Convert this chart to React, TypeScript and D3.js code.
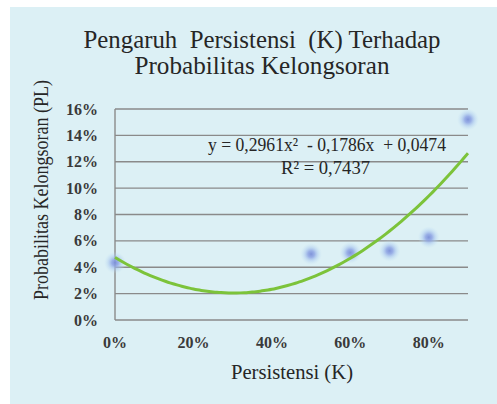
import React from "react";
import * as d3 from "d3";

// observed points (Persistensi K vs Probabilitas Kelongsoran PL)
const persistensi = [0, 0.5, 0.6, 0.7, 0.8, 0.9];
const probabilitas = [0.0435, 0.05, 0.051, 0.0525, 0.0627, 0.152];
// polynomial trendline coefficients: a x^2 + b x + c (as printed on chart)
const trendCoef = [0.2961, -0.1786, 0.0474];
const xTicks = [0, 0.2, 0.4, 0.6, 0.8];
const yTicks = [0, 0.02, 0.04, 0.06, 0.08, 0.1, 0.12, 0.14, 0.16];

const W = 497;
const H = 404;
const serif = "Liberation Serif";

const App = () => {
  const svgRef = React.useRef<SVGSVGElement>(null);

  React.useEffect(() => {
    const svg = d3.select(svgRef.current);
    svg.selectAll("*").remove();

    const x = d3.scaleLinear().domain([0, 0.9]).range([115, 468]);
    const y = d3.scaleLinear().domain([0, 0.16]).range([320, 109]);

    const defs = svg.append("defs");
    const glow = defs.append("radialGradient").attr("id", "glow");
    glow.append("stop").attr("offset", "0%").attr("stop-color", "#7b8fd8").attr("stop-opacity", 0.95);
    glow.append("stop").attr("offset", "30%").attr("stop-color", "#8ea4e4").attr("stop-opacity", 0.85);
    glow.append("stop").attr("offset", "60%").attr("stop-color", "#a9c6ee").attr("stop-opacity", 0.5);
    glow.append("stop").attr("offset", "100%").attr("stop-color", "#c4e2f4").attr("stop-opacity", 0);

    // background
    svg.append("rect").attr("x", 0).attr("y", 0).attr("width", W).attr("height", H).attr("fill", "#ffffff");
    svg.append("rect").attr("x", 10).attr("y", 7).attr("width", W - 10).attr("height", H - 7).attr("fill", "#dcf0f5");

    const root = svg.append("g").style("font-family", serif);

    // title
    root.append("text")
      .attr("x", 262).attr("y", 48)
      .attr("text-anchor", "middle")
      .attr("font-size", 25)
      .attr("fill", "#262626")
      .attr("textLength", 357)
      .attr("lengthAdjust", "spacingAndGlyphs")
      .attr("xml:space", "preserve")
      .text("Pengaruh  Persistensi  (K) Terhadap");
    root.append("text")
      .attr("x", 262).attr("y", 74)
      .attr("text-anchor", "middle")
      .attr("font-size", 25)
      .attr("fill", "#262626")
      .attr("textLength", 255)
      .attr("lengthAdjust", "spacingAndGlyphs")
      .text("Probabilitas Kelongsoran");

    // gridlines
    root.append("g").selectAll("line")
      .data(yTicks)
      .enter().append("line")
      .attr("x1", x(0)).attr("x2", x(0.9))
      .attr("y1", d => y(d)).attr("y2", d => y(d))
      .attr("stroke", "#8a8a8a")
      .attr("stroke-width", 1.4);
    // y axis line
    root.append("line")
      .attr("x1", x(0)).attr("x2", x(0))
      .attr("y1", y(0.16)).attr("y2", y(0))
      .attr("stroke", "#8a8a8a")
      .attr("stroke-width", 1.4);

    // y tick labels
    root.append("g").selectAll("text")
      .data(yTicks)
      .enter().append("text")
      .attr("x", 98)
      .attr("y", d => y(d) + 5.5)
      .attr("text-anchor", "end")
      .attr("font-size", 16)
      .attr("font-weight", "bold")
      .attr("fill", "#3a3a3a")
      .text(d => d3.format(".0%")(d));

    // x tick labels
    root.append("g").selectAll("text")
      .data(xTicks)
      .enter().append("text")
      .attr("x", d => x(d))
      .attr("y", 348)
      .attr("text-anchor", "middle")
      .attr("font-size", 16)
      .attr("font-weight", "bold")
      .attr("fill", "#3a3a3a")
      .text(d => d3.format(".0%")(d));

    // axis titles
    root.append("text")
      .attr("x", 292).attr("y", 379)
      .attr("text-anchor", "middle")
      .attr("font-size", 20)
      .attr("fill", "#262626")
      .attr("textLength", 122)
      .attr("lengthAdjust", "spacingAndGlyphs")
      .text("Persistensi (K)");
    root.append("text")
      .attr("transform", `translate(48, 190) rotate(-90)`)
      .attr("text-anchor", "middle")
      .attr("font-size", 20)
      .attr("fill", "#262626")
      .attr("textLength", 220)
      .attr("lengthAdjust", "spacingAndGlyphs")
      .text("Probabilitas Kelongsoran (PL)");

    // points with glow
    const pts = persistensi.map((k, i) => [k, probabilitas[i]]);
    root.append("g").selectAll("circle")
      .data(pts)
      .enter().append("circle")
      .attr("cx", d => x(d[0])).attr("cy", d => y(d[1]))
      .attr("r", 11)
      .attr("fill", "url(#glow)");

    // trendline
    const [a, b, c] = trendCoef;
    const xs = d3.range(0, 0.9001, 0.01);
    const line = d3.line<number>()
      .x(d => x(d))
      .y(d => y(a * d * d + b * d + c))
      .curve(d3.curveMonotoneX);
    root.append("path")
      .datum(xs)
      .attr("d", line)
      .attr("fill", "none")
      .attr("stroke", "#7cc33a")
      .attr("stroke-width", 3);

    // equation
    root.append("text")
      .attr("x", 208).attr("y", 151)
      .attr("font-size", 19)
      .attr("fill", "#262626")
      .attr("textLength", 238)
      .attr("lengthAdjust", "spacingAndGlyphs")
      .attr("xml:space", "preserve")
      .text("y = 0,2961x²  - 0,1786x  + 0,0474");
    root.append("text")
      .attr("x", 281).attr("y", 174)
      .attr("font-size", 19)
      .attr("fill", "#262626")
      .attr("textLength", 89)
      .attr("lengthAdjust", "spacingAndGlyphs")
      .text("R² = 0,7437");
  }, []);

  return (
    <svg
      ref={svgRef}
      width={W}
      height={H}
      style={{ position: "absolute", left: 0, top: 0 }}
    />
  );
};

export default App;
